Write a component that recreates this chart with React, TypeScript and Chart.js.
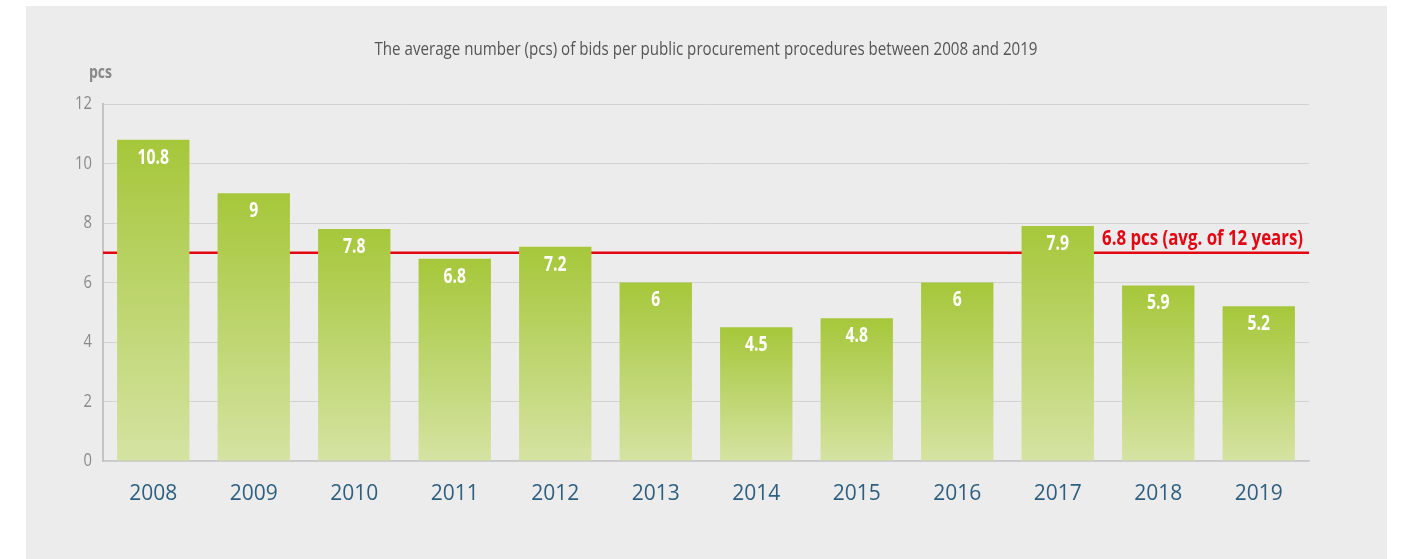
import React, { useEffect, useRef } from "react";
import { Chart, registerables } from "chart.js";

Chart.register(...registerables);

const categories = ["2008", "2009", "2010", "2011", "2012", "2013", "2014", "2015", "2016", "2017", "2018", "2019"];
const values = [10.8, 9, 7.8, 6.8, 7.2, 6, 4.5, 4.8, 6, 7.9, 5.9, 5.2];
const valueLabels = ["10.8", "9", "7.8", "6.8", "7.2", "6", "4.5", "4.8", "6", "7.9", "5.9", "5.2"];
const yTickValues = [0, 2, 4, 6, 8, 10, 12];
const yTickLabels = ["0", "2", "4", "6", "8", "10", "12"];
const avgLineValue = 7;
const avgLabel = "6.8 pcs (avg. of 12 years)";
const titleText = "The average number (pcs) of bids per public procurement procedures between 2008 and 2019";
const unitText = "pcs";

const SANS = '"Open Sans", "Noto Sans", sans-serif';

function drawNarrow(ctx: CanvasRenderingContext2D, text: string, x: number, y: number, sx: number, align: CanvasTextAlign) {
  ctx.save();
  ctx.translate(x, y);
  ctx.scale(sx, 1);
  ctx.textAlign = align;
  ctx.fillText(text, 0, 0);
  ctx.restore();
}

function fitScale(ctx: CanvasRenderingContext2D, text: string, target: number) {
  const w = ctx.measureText(text).width;
  return w > 0 ? target / w : 1;
}

const textPlugin = {
  id: "customText",
  beforeDatasetsDraw(chart: any) {
    const { ctx, chartArea, scales } = chart;
    const y = scales.y.getPixelForValue(avgLineValue);
    ctx.save();
    ctx.strokeStyle = "#e30613";
    ctx.lineWidth = 2.5;
    ctx.beginPath();
    ctx.moveTo(chartArea.left, y);
    ctx.lineTo(chartArea.right, y);
    ctx.stroke();
    ctx.restore();
  },
  afterDatasetsDraw(chart: any) {
    const { ctx, chartArea, scales } = chart;
    const meta = chart.getDatasetMeta(0);
    ctx.save();
    // y tick labels
    ctx.fillStyle = "#8a8a8a";
    ctx.font = `18px ${SANS}`;
    ctx.textBaseline = "middle";
    yTickValues.forEach((v, i) => {
      drawNarrow(ctx, yTickLabels[i], chartArea.left - 11, scales.y.getPixelForValue(v), 0.82, "right");
    });
    // value labels
    ctx.fillStyle = "#ffffff";
    ctx.font = `bold 21px ${SANS}`;
    ctx.textBaseline = "middle";
    meta.data.forEach((bar: any, i: number) => {
      drawNarrow(ctx, valueLabels[i], bar.x, bar.y + 18, 0.75, "center");
    });
    // avg label
    const y = scales.y.getPixelForValue(avgLineValue);
    ctx.fillStyle = "#e30613";
    ctx.font = `bold 22px ${SANS}`;
    ctx.textBaseline = "alphabetic";
    drawNarrow(ctx, avgLabel, chartArea.right - 6, y - 8, fitScale(ctx, avgLabel, 201), "right");
    // title
    ctx.fillStyle = "#555555";
    ctx.font = `19px ${SANS}`;
    ctx.textBaseline = "alphabetic";
    drawNarrow(ctx, titleText, 680, 49, fitScale(ctx, titleText, 663), "center");
    // unit
    ctx.fillStyle = "#888888";
    ctx.font = `bold 18px ${SANS}`;
    ctx.textBaseline = "middle";
    drawNarrow(ctx, unitText, 63, 67, fitScale(ctx, unitText, 23), "left");
    ctx.restore();
  },
};

export default function App() {
  const ref = useRef<HTMLCanvasElement | null>(null);
  useEffect(() => {
    if (!ref.current) return;
    const chart = new Chart(ref.current, {
      type: "bar",
      data: {
        labels: categories,
        datasets: [
          {
            data: values,
            barPercentage: 0.72,
            categoryPercentage: 1,
            backgroundColor: (c: any) => {
              const ch = c.chart;
              if (c.dataIndex === undefined || !ch.chartArea || !ch.scales?.y) return "#bcd46a";
              const ys = ch.scales.y;
              const top = ys.getPixelForValue(values[c.dataIndex]);
              const bottom = ys.getPixelForValue(0);
              const g = ch.ctx.createLinearGradient(0, top, 0, bottom);
              g.addColorStop(0, "#a6c73a");
              g.addColorStop(1, "#d5e3a2");
              return g;
            },
            borderWidth: 0,
          },
        ],
      },
      options: {
        responsive: false,
        animation: false,
        layout: { padding: { left: 0, right: 78, top: 98, bottom: 0 } },
        plugins: { legend: { display: false }, tooltip: { enabled: false }, title: { display: false } },
        scales: {
          x: {
            grid: { display: false, drawTicks: false },
            border: { display: true, color: "#c8c8c8", width: 1.5 },
            ticks: {
              color: "#2e5f80",
              font: { family: SANS, size: 21 },
              padding: 20,
            },
            afterFit: (s: any) => {
              s.height = 98;
            },
          },
          y: {
            min: 0,
            max: 12,
            afterBuildTicks: (s: any) => {
              s.ticks = yTickValues.map((v) => ({ value: v }));
            },
            grid: { color: "#d3d3d3", lineWidth: 1, drawTicks: false },
            border: { display: true, color: "#c4c4c4", width: 2 },
            ticks: { display: false },
            afterFit: (s: any) => {
              s.width = 77;
            },
          },
        },
      },
      plugins: [textPlugin],
    } as any);
    return () => chart.destroy();
  }, []);
  return (
    <div style={{ position: "absolute", left: 0, top: 0, width: 1401, height: 559, background: "#ffffff", overflow: "hidden" }}>
      <div style={{ position: "absolute", left: 26, top: 6, width: 1361, height: 553, background: "#ececec" }}>
        <canvas ref={ref} width={1361} height={553} style={{ display: "block", width: 1361, height: 553 }} />
      </div>
    </div>
  );
}
